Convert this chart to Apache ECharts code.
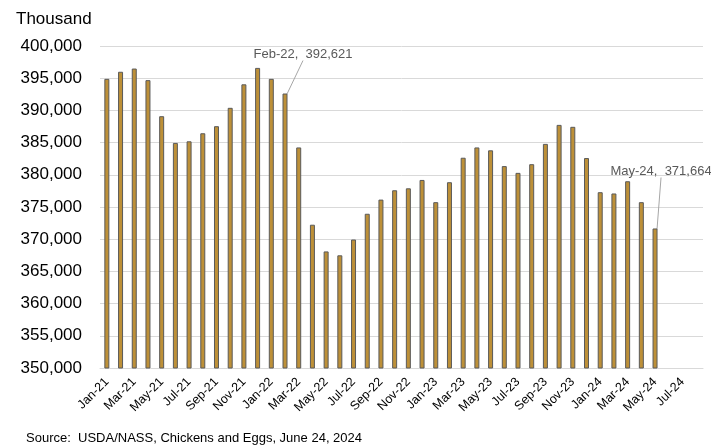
<!DOCTYPE html>
<html>
<head>
<meta charset="utf-8">
<script src="https://cdn.jsdelivr.net/npm/echarts@6/dist/echarts.min.js"></script>
<style>
  html, body { margin: 0; padding: 0; background: #fff; }
  #chart { width: 711px; height: 445px; }
</style>
</head>
<body>
<div id="chart"></div>
<script>
// months Jan-21 .. Aug-24 (last three without data)
const months = [
  'Jan-21', 'Feb-21', 'Mar-21', 'Apr-21', 'May-21', 'Jun-21', 'Jul-21', 'Aug-21', 'Sep-21', 'Oct-21', 'Nov-21', 'Dec-21',
  'Jan-22', 'Feb-22', 'Mar-22', 'Apr-22', 'May-22', 'Jun-22', 'Jul-22', 'Aug-22', 'Sep-22', 'Oct-22', 'Nov-22', 'Dec-22',
  'Jan-23', 'Feb-23', 'Mar-23', 'Apr-23', 'May-23', 'Jun-23', 'Jul-23', 'Aug-23', 'Sep-23', 'Oct-23', 'Nov-23', 'Dec-23',
  'Jan-24', 'Feb-24', 'Mar-24', 'Apr-24', 'May-24', 'Jun-24', 'Jul-24', 'Aug-24'
];

// table egg layers, thousand head
const layers = [
  394900, 396000, 396500, 394700, 389100, 384950, 385200, 386450, 387550, 390400, 394050, 396600,
  394900, 392621, 384250, 372250, 368100, 367500, 369950, 373950, 376150, 377600, 377900, 379200,
  375750, 378850, 382650, 384250, 383800, 381350, 380300, 381650, 384800, 387750, 387450, 382600,
  377300, 377100, 379000, 375750, 371664, null, null, null
];

// annotated points: index -> label shift
const callouts = { 13: [18, -28], 40: [6, -46] };

const font = 'Liberation Sans, Arial, sans-serif';
const chart = echarts.init(document.getElementById('chart'));

chart.setOption({
  animation: false,
  textStyle: { fontFamily: font },
  title: {
    text: 'Thousand',
    left: 11,
    top: 6,
    textStyle: { fontSize: 17, fontWeight: 'normal', color: '#000', fontFamily: font }
  },
  graphic: [{
    type: 'text',
    left: 26,
    bottom: 0,
    style: {
      text: 'Source:  USDA/NASS, Chickens and Eggs, June 24, 2024',
      fontSize: 13,
      fill: '#000',
      fontFamily: font
    }
  }],
  grid: { left: 100, right: 8, top: 46, bottom: 77 },
  xAxis: {
    type: 'category',
    data: months,
    axisLine: { lineStyle: { color: '#d9d9d9' } },
    axisTick: { show: false },
    axisLabel: { interval: 1, rotate: 45, fontSize: 12.5, color: '#000', margin: 12 }
  },
  yAxis: {
    type: 'value',
    min: 350000,
    max: 400000,
    interval: 5000,
    axisLine: { show: false },
    axisTick: { show: false },
    splitLine: { lineStyle: { color: '#d9d9d9' } },
    axisLabel: { fontSize: 17, color: '#000', margin: 18 }
  },
  series: [{
    type: 'bar',
    barWidth: 5,
    data: layers.map((v, i) => {
      if (!callouts[i]) return v;
      return {
        value: v,
        label: {
          show: true,
          position: 'top',
          fontSize: 13,
          color: '#595959',
          formatter: months[i] + ',  ' + v.toLocaleString('en-US')
        },
        labelLine: { show: true, lineStyle: { color: '#a6a6a6', width: 1 } }
      };
    }),
    itemStyle: { color: '#BD9038', borderColor: '#5a5a5a', borderWidth: 1 },
    labelLayout: function (params) {
      const s = callouts[params.dataIndex];
      return s ? { dx: s[0], dy: s[1] } : {};
    }
  }]
});
</script>
</body>
</html>
